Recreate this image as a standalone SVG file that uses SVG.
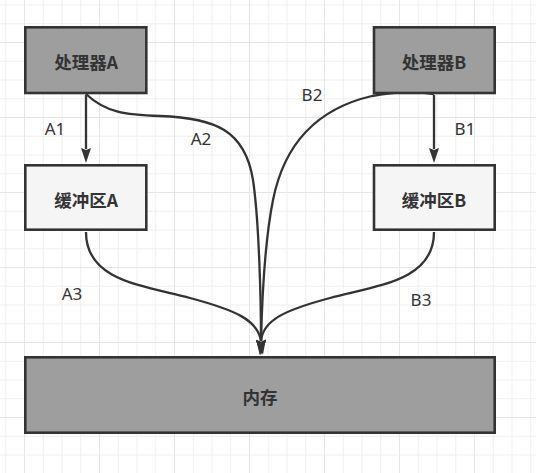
<svg xmlns="http://www.w3.org/2000/svg" width="536" height="473" viewBox="0 0 536 473">
<defs>
<pattern id="grid" patternUnits="userSpaceOnUse" x="24" y="42" width="75" height="75">
<rect width="75" height="75" fill="#ffffff"/>
<g fill="#f0f0f0">
<rect x="18.75" y="0" width="1" height="75"/>
<rect x="37.5" y="0" width="1" height="75"/>
<rect x="56.25" y="0" width="1" height="75"/>
<rect x="0" y="18.75" width="75" height="1"/>
<rect x="0" y="37.5" width="75" height="1"/>
<rect x="0" y="56.25" width="75" height="1"/>
</g>
<g fill="#e6e6e6">
<rect x="0" y="0" width="1" height="75"/>
<rect x="0" y="0" width="75" height="1"/>
</g>
</pattern>
<marker id="arrow" viewBox="0 0 15 10" refX="1" refY="5" markerWidth="15" markerHeight="10" markerUnits="userSpaceOnUse" orient="auto">
<path d="M0,0 L15,5 L0,10 L2,5 z" fill="#333333"/>
</marker>
</defs>
<style>
.node rect { stroke: #333333; stroke-width: 2.6; }
.proc rect { fill: #9e9e9e; }
.buf rect { fill: #f5f5f5; }
.node text { font-family: "Noto Sans CJK SC", "Noto Sans", sans-serif; font-weight: bold; font-size: 17.5px; fill: #333333; text-anchor: middle; }
.edges path { fill: none; stroke: #333333; stroke-width: 2.3; marker-end: url(#arrow); }
.labels text { font-family: "Noto Sans", "Liberation Sans", sans-serif; font-size: 17px; fill: #333333; text-anchor: middle; }
</style>
<rect x="0" y="0" width="536" height="473" fill="url(#grid)"/>
<g id="connectors" class="edges">
<path id="e-A1" d="M86,95 L86,149"/>
<path id="e-B1" d="M434,95 L434,149"/>
<path id="e-A2" d="M86,94 C105,112 125,115 160,116 C215,118 245,130 253,180 C259,220 261,300 261,341"/>
<path id="e-B2" d="M434,94 C410,90 390,93 372,96 C320,108 285,140 273,200 C264,245 262,300 261,341"/>
<path id="e-A3" d="M86,232 C86,280 140,285 190,298 C235,310 258,320 261,341"/>
<path id="e-B3" d="M434,232 C434,280 380,285 330,298 C285,310 263,320 261,341"/>
</g>
<g id="edge-labels" class="labels">
<text x="55" y="135">A1</text>
<text x="201" y="145">A2</text>
<text x="312" y="101">B2</text>
<text x="465" y="135">B1</text>
<text x="72" y="300">A3</text>
<text x="421" y="306">B3</text>
</g>
<g id="procA" class="node proc">
<rect x="25.3" y="27.3" width="121" height="65.7"/>
<text x="86" y="69">处理器A</text>
</g>
<g id="procB" class="node proc">
<rect x="374" y="27.3" width="120.7" height="65.7"/>
<text x="434" y="69">处理器B</text>
</g>
<g id="bufA" class="node buf">
<rect x="25.3" y="165.3" width="121" height="64.4"/>
<text x="86" y="206.5">缓冲区A</text>
</g>
<g id="bufB" class="node buf">
<rect x="374" y="165.3" width="120.7" height="64.4"/>
<text x="434" y="206.5">缓冲区B</text>
</g>
<g id="memory" class="node proc">
<rect x="25.3" y="357.3" width="469.4" height="75.4"/>
<text x="260" y="404">内存</text>
</g>
</svg>
